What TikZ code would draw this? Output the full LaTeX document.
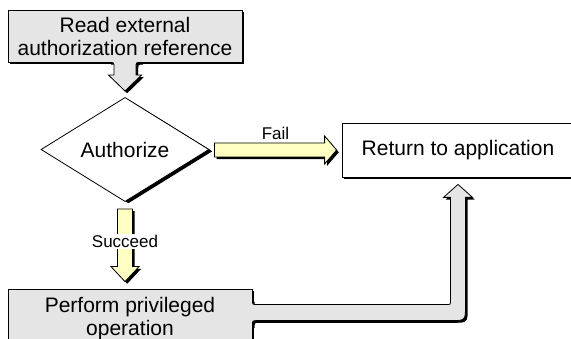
\documentclass[tikz,border=0pt]{standalone}
\usepackage{fontspec}
\setmainfont{Liberation Sans}
\usetikzlibrary{shapes.geometric,calc}
\definecolor{boxgray}{RGB}{229,229,229}
\definecolor{arrowyellow}{RGB}{255,255,196}
\begin{document}
\begin{tikzpicture}[x=1pt, y=-1pt, line width=0.8pt,
    hardshadow/.style={preaction={fill=black, transform canvas={xshift=#1, yshift=-#1}}},
    hardshadow/.default=2.2pt,
    stepbox/.style={draw, fill=boxgray, inner sep=0pt, align=center,
        font=\fontsize{21}{23}\selectfont, hardshadow},
    endbox/.style={stepbox, fill=white},
    decision/.style={diamond, draw, fill=white, inner sep=0pt,
        minimum width=168pt, minimum height=89pt, font=\fontsize{21}{23}\selectfont,
        preaction={fill=black, transform canvas={xshift=3.4pt, yshift=-1.8pt}}},
    flowarrow/.style={draw, fill=arrowyellow, hardshadow},
    grayarrow/.style={fill=boxgray, hardshadow},
    armlabel/.style={font=\fontsize{17}{19}\selectfont, inner sep=1.5pt}]
    \useasboundingbox (0,0) rectangle (571,339);

    % steps
    \node (read) [stepbox, minimum width=234pt, minimum height=52pt] at (125,36) {Read external\\authorization reference};
    \node (auth) [decision] at (125,149.5) {Authorize};
    \node (ret) [endbox, minimum width=232pt, minimum height=54pt] at (458,150) {Return to application};
    \node (perform) [stepbox, minimum width=244pt, minimum height=60pt] at (130,319) {Perform privileged\\operation};

    % read -> authorize, grown out of the box
    \coordinate (readS) at (read.south);
    \coordinate (readT) at ($(auth.north)+(0,-6)$);
    \fill[grayarrow] ($(readS)+(-16,-1.5)$) -- ($(readS)+(-16,0)$) .. controls ($(readS)+(-11,0)$) .. ($(readS)+(-11,5)$)
        -- ($(readT)+(-11,-16)$) -- ($(readT)+(-16.5,-16)$) -- (readT) -- ($(readT)+(16.5,-16)$) -- ($(readT)+(11,-16)$)
        -- ($(readS)+(11,5)$) .. controls ($(readS)+(11,0)$) .. ($(readS)+(16,0)$) -- ($(readS)+(16,-1.5)$) -- cycle;
    \draw ($(readS)+(-16,0)$) .. controls ($(readS)+(-11,0)$) .. ($(readS)+(-11,5)$)
        -- ($(readT)+(-11,-16)$) -- ($(readT)+(-16.5,-16)$) -- (readT) -- ($(readT)+(16.5,-16)$) -- ($(readT)+(11,-16)$)
        -- ($(readS)+(11,5)$) .. controls ($(readS)+(11,0)$) .. ($(readS)+(16,0)$);

    % fail
    \coordinate (failS) at ($(auth.east |- ret.west)+(5,0)$);
    \coordinate (failT) at ($(ret.west)+(-5,0)$);
    \draw[flowarrow] ($(failS)+(0,-7)$) -- ($(failT)+(-12,-7)$) -- ($(failT)+(-12,-14)$) -- (failT)
        -- ($(failT)+(-12,14)$) -- ($(failT)+(-12,7)$) -- ($(failS)+(0,7)$) -- cycle;
    \node (fail) [armlabel] at ($(failS)!0.5!(failT)+(0,-17)$) {Fail};

    % succeed
    \coordinate (succS) at ($(auth.south)+(0,7)$);
    \coordinate (succT) at ($(perform.north -| auth.south)+(0,-7)$);
    \draw[flowarrow] ($(succS)+(-7.5,0)$) -- ($(succT)+(-7.5,-15)$) -- ($(succT)+(-14,-15)$) -- (succT)
        -- ($(succT)+(14,-15)$) -- ($(succT)+(7.5,-15)$) -- ($(succS)+(7.5,0)$) -- cycle;
    \node (succeed) [armlabel, fill=white] at ($(succS)!0.45!(succT)$) {Succeed};

    % perform -> return, grown out of the box
    \coordinate (retC) at (perform.north east);
    \coordinate (retT) at ($(ret.south)+(0,7)$);
    \coordinate (retK) at (retT |- retC);
    \fill[grayarrow] ($(retC)+(-1.5,11)$) -- ($(retC)+(0,11)$) .. controls ($(retC)+(0,16)$) .. ($(retC)+(5,16)$)
        -- ($(retK)+(-11.5,16)$) .. controls ($(retK)+(-7.5,16)$) .. ($(retK)+(-7.5,12)$)
        -- ($(retT)+(-7.5,13)$) -- ($(retT)+(-14.5,13)$) -- (retT) -- ($(retT)+(14.5,13)$) -- ($(retT)+(7.5,13)$)
        -- ($(retK)+(7.5,17)$) .. controls ($(retK)+(7.5,32)$) .. ($(retK)+(-7.5,32)$)
        -- ($(retC)+(5,32)$) .. controls ($(retC)+(0,32)$) .. ($(retC)+(0,37)$) -- ($(retC)+(-1.5,37)$) -- cycle;
    \draw ($(retC)+(0,11)$) .. controls ($(retC)+(0,16)$) .. ($(retC)+(5,16)$)
        -- ($(retK)+(-11.5,16)$) .. controls ($(retK)+(-7.5,16)$) .. ($(retK)+(-7.5,12)$)
        -- ($(retT)+(-7.5,13)$) -- ($(retT)+(-14.5,13)$) -- (retT) -- ($(retT)+(14.5,13)$) -- ($(retT)+(7.5,13)$)
        -- ($(retK)+(7.5,17)$) .. controls ($(retK)+(7.5,32)$) .. ($(retK)+(-7.5,32)$)
        -- ($(retC)+(5,32)$) .. controls ($(retC)+(0,32)$) .. ($(retC)+(0,37)$);
\end{tikzpicture}
\end{document}
